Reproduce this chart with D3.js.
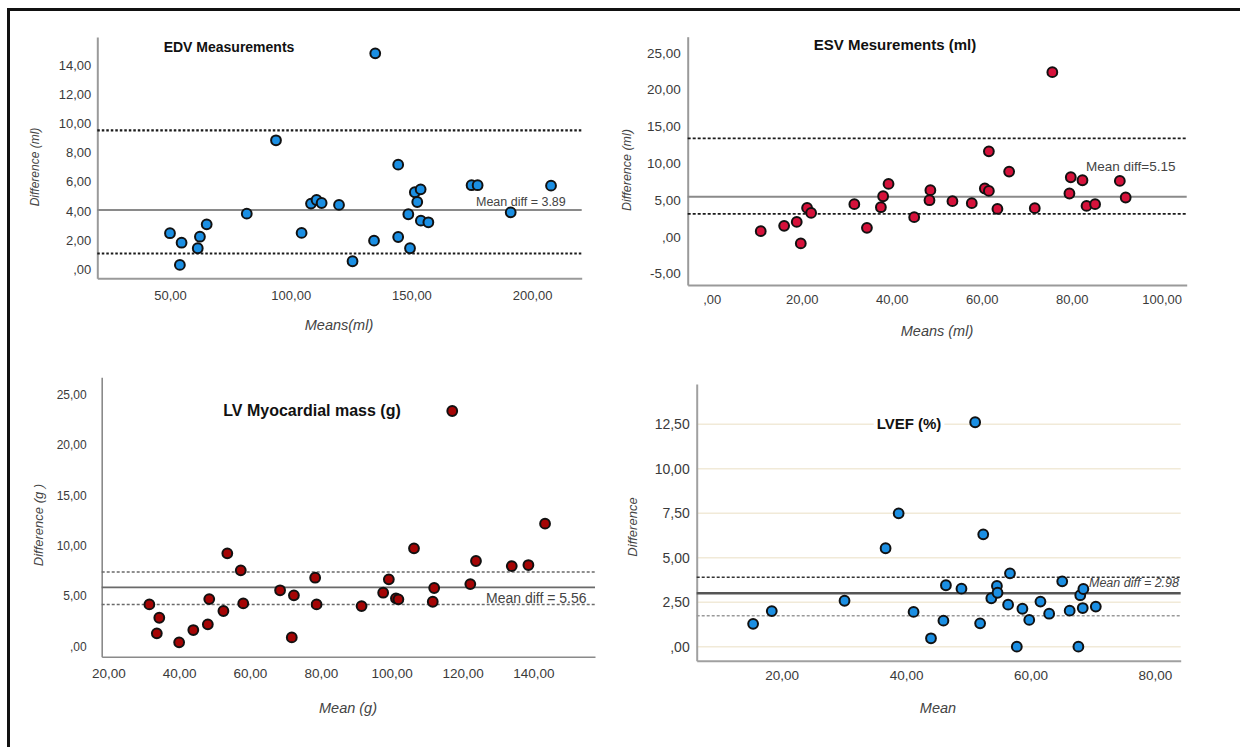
<!DOCTYPE html>
<html>
<head>
<meta charset="utf-8">
<script src="https://cdn.jsdelivr.net/npm/d3@7"></script>
<style>
  body { margin: 0; background: #fff; }
  svg { display: block; font-family: "Liberation Sans", Arial, sans-serif; }
  .tick text { fill: #3a3a3a; }
</style>
</head>
<body>
<div id="chart"></div>
<script>
// EDV (ml)
const edvMeans = [50.0, 54.8, 54.1, 61.5, 62.4, 65.2, 81.8, 93.9, 104.5, 108.4, 110.7, 112.8, 120.0, 125.6, 134.5, 135.0, 144.5, 144.5, 148.7, 149.4, 151.4, 153.8, 152.4, 153.9, 157.0, 174.9, 177.4, 191.1, 207.8];
const edvDiffs = [2.47, 1.82, 0.30, 1.44, 2.23, 3.08, 3.81, 8.84, 2.49, 4.50, 4.75, 4.54, 4.41, 0.55, 1.96, 14.80, 7.17, 2.21, 3.77, 1.44, 5.28, 5.48, 4.61, 3.33, 3.22, 5.76, 5.76, 3.90, 5.73];
const edvLines = [9.52, 4.06, 1.08]; // upper, mean, lower
const edvYTicks = [0, 2, 4, 6, 8, 10, 12, 14];
const edvXTicks = [50, 100, 150, 200];

// ESV (ml)
const esvMeans = [10.9, 16.1, 18.9, 19.8, 21.2, 22.1, 31.7, 34.5, 37.6, 38.1, 39.3, 45.0, 48.6, 48.4, 53.5, 57.8, 60.7, 61.6, 61.6, 63.5, 66.1, 71.8, 75.7, 79.5, 79.8, 82.4, 83.3, 85.2, 90.7, 92.0];
const esvDiffs = [0.77, 1.49, 2.03, -0.89, 3.93, 3.25, 4.43, 1.22, 4.02, 5.51, 7.18, 2.67, 6.33, 4.97, 4.84, 4.57, 6.56, 6.23, 11.61, 3.79, 8.86, 3.89, 22.36, 5.88, 8.09, 7.68, 4.20, 4.43, 7.59, 5.34];
const esvLines = [13.37, 5.45, 3.12];
const esvYTicks = [-5, 0, 5, 10, 15, 20, 25];
const esvXTicks = [0, 20, 40, 60, 80, 100];

// LV myocardial mass (g)
const lvmMeans = [31.6, 34.4, 33.7, 40.0, 44.0, 48.1, 48.5, 52.5, 53.6, 57.4, 58.1, 68.5, 72.4, 71.8, 78.4, 78.8, 91.5, 97.6, 99.2, 101.2, 101.9, 106.3, 111.6, 112.0, 117.1, 122.2, 123.8, 133.9, 138.6, 143.3];
const lvmDiffs = [4.17, 2.84, 1.29, 0.40, 1.62, 2.19, 4.70, 3.51, 9.24, 7.55, 4.27, 5.57, 5.07, 0.89, 6.82, 4.17, 4.00, 5.33, 6.66, 4.77, 4.67, 9.74, 4.43, 5.80, 23.39, 6.19, 8.48, 7.98, 8.08, 12.19];
const lvmLines = [7.39, 5.86, 4.17];
const lvmYTicks = [0, 5, 10, 15, 20, 25];
const lvmXTicks = [20, 40, 60, 80, 100, 120, 140];

// LVEF (%)
const efMeans = [15.4, 18.4, 30.1, 36.7, 38.8, 41.2, 44.0, 46.0, 46.4, 48.9, 51.1, 51.9, 52.4, 53.7, 54.6, 54.7, 56.4, 56.7, 57.8, 58.7, 59.8, 61.6, 63.0, 65.1, 66.3, 67.7, 68.0, 68.5, 68.4, 70.5];
const efDiffs = [1.28, 2.00, 2.58, 5.53, 7.49, 1.95, 0.47, 1.46, 3.45, 3.26, 12.61, 1.31, 6.31, 2.72, 3.41, 3.03, 2.36, 4.12, 0.00, 2.13, 1.50, 2.53, 1.85, 3.67, 2.02, 0.00, 2.89, 3.24, 2.17, 2.25];
const efLines = [3.90, 3.00, 1.74];
const efYTicks = [0, 2.5, 5, 7.5, 10, 12.5];
const efXTicks = [20, 40, 60, 80];

const width = 1240;
const height = 747;
const svg = d3.select('#chart').append('svg').attr('width', width).attr('height', height);

// frame (top and left only, like the pasted figure)
svg.append('line').attr('x1', 8.5).attr('x2', width).attr('y1', 9.5).attr('y2', 9.5).attr('stroke', '#111').attr('stroke-width', 3);
svg.append('line').attr('x1', 8.5).attr('x2', 8.5).attr('y1', 8).attr('y2', height).attr('stroke', '#111').attr('stroke-width', 3);

// SPSS style: comma decimals, ",00" for zero, plain hyphen for minus
const fmt = d => d === 0 ? ',00' : d3.format('.2f')(d).replace('.', ',').replace('\u2212', '-');

const panels = [
  {
    xs: edvMeans, ys: edvDiffs, lines: edvLines, xTicks: edvXTicks, yTicks: edvYTicks,
    xRange: [97.3, 581.7], yRange: [278.3, 37], xDomain: [19.9, 220.5], yDomain: [-0.62, 15.92],
    fill: '#1b8fe3', tickFont: 13, yTickFont: 13, xPad: 12, yPad: 6,
    axisColor: '#9a9a9a', axisWidth: 2,
    dash: [{ c: '#1a1a1a', w: 2.2, d: '2.5,2' }, { c: '#8a8a8a', w: 2 }, { c: '#1a1a1a', w: 2.2, d: '2.5,2' }],
    title: 'EDV Measurements', titleX: 229, titleY: 52, titleSize: 14,
    meanText: 'Mean diff = 3.89', meanX: 476, meanY: 206, meanSize: 12.5, meanItalic: false,
    xTitle: 'Means(ml)', xTitleX: 339, xTitleY: 330, yTitle: 'Difference (ml)', yTitleX: 35, yTitleY: 167, yTitleSize: 12
  },
  {
    xs: esvMeans, ys: esvDiffs, lines: esvLines, xTicks: esvXTicks, yTicks: esvYTicks,
    xRange: [687.7, 1186.7], yRange: [285, 36.7], xDomain: [-5.33, 105.56], yDomain: [-6.54, 27.17],
    fill: '#d6123b', tickFont: 13, yTickFont: 13.5, xPad: 10, yPad: 7,
    axisColor: '#9a9a9a', axisWidth: 2,
    dash: [{ c: '#1a1a1a', w: 1.6, d: '3,2' }, { c: '#8a8a8a', w: 2 }, { c: '#1a1a1a', w: 1.6, d: '3,2' }],
    title: 'ESV Mesurements (ml)', titleX: 895, titleY: 50, titleSize: 15,
    meanText: 'Mean diff=5.15', meanX: 1086, meanY: 171, meanSize: 13.5, meanItalic: false,
    xTitle: 'Means (ml)', xTitleX: 937, xTitleY: 336, yTitle: 'Difference (ml)', yTitleX: 627, yTitleY: 170, yTitleSize: 12.5
  },
  {
    xs: lvmMeans, ys: lvmDiffs, lines: lvmLines, xTicks: lvmXTicks, yTicks: lvmYTicks,
    xRange: [101.7, 595], yRange: [656.7, 377.3], xDomain: [18.14, 157.4], yDomain: [-1.03, 26.74],
    fill: '#a50505', tickFont: 13.5, yTickFont: 12, xPad: 12, yPad: 15,
    axisColor: '#8a8a8a', axisWidth: 1.6,
    dash: [{ c: '#6a6a6a', w: 1.5, d: '3,2' }, { c: '#6a6a6a', w: 1.6 }, { c: '#6a6a6a', w: 1.5, d: '3,2' }],
    title: 'LV Myocardial mass (g)', titleX: 312, titleY: 415.5, titleSize: 16,
    meanText: 'Mean diff = 5.56', meanX: 486, meanY: 603, meanSize: 14, meanItalic: false,
    xTitle: 'Mean (g)', xTitleX: 348, xTitleY: 713, yTitle: 'Difference (g )', yTitleX: 38, yTitleY: 525, yTitleSize: 13
  },
  {
    xs: efMeans, ys: efDiffs, lines: efLines, xTicks: efXTicks, yTicks: efYTicks,
    xRange: [696.7, 1180.7], yRange: [660.7, 384], xDomain: [6.33, 84.15], yDomain: [-0.79, 14.76],
    fill: '#1b8fe3', tickFont: 13.5, yTickFont: 14, xPad: 10, yPad: 7,
    axisColor: '#a0a0a0', axisWidth: 2, grid: true,
    dash: [{ c: '#333', w: 1.5, d: '3,2' }, { c: '#555', w: 2.5 }, { c: '#9a9a9a', w: 1.5, d: '3,2' }],
    title: 'LVEF (%)', titleX: 909, titleY: 428.5, titleSize: 15, titleBox: true,
    meanText: 'Mean diff = 2.98', meanX: 1089, meanY: 587, meanSize: 12.5, meanItalic: true,
    xTitle: 'Mean', xTitleX: 938, xTitleY: 713, yTitle: 'Difference', yTitleX: 632, yTitleY: 527, yTitleSize: 13
  }
];

panels.forEach(drawPanel);

function drawPanel(p) {
  const x = d3.scaleLinear().domain(p.xDomain).range(p.xRange);
  const y = d3.scaleLinear().domain(p.yDomain).range(p.yRange);
  const g = svg.append('g');

  if (p.grid) {
    g.selectAll('.grid').data(p.yTicks).enter().append('line')
      .attr('x1', p.xRange[0]).attr('x2', p.xRange[1])
      .attr('y1', d => y(d)).attr('y2', d => y(d))
      .attr('stroke', '#f1ead8').attr('stroke-width', 1.5);
  }

  // x axis
  const xa = g.append('g').attr('transform', `translate(0,${p.yRange[0]})`)
    .call(d3.axisBottom(x).tickValues(p.xTicks).tickFormat(fmt).tickSize(0).tickPadding(p.xPad));
  xa.selectAll('text').style('font-size', p.tickFont + 'px');
  xa.select('.domain').attr('stroke', p.axisColor).attr('stroke-width', p.axisWidth);

  // y axis
  const ya = g.append('g').attr('transform', `translate(${p.xRange[0]},0)`)
    .call(d3.axisLeft(y).tickValues(p.yTicks).tickFormat(fmt).tickSize(0).tickPadding(p.yPad));
  ya.selectAll('text').style('font-size', p.yTickFont + 'px');
  ya.select('.domain').attr('stroke', p.axisColor).attr('stroke-width', p.axisWidth);

  // limits of agreement and mean difference
  g.selectAll('.ref').data(p.lines).enter().append('line')
    .attr('x1', p.xRange[0]).attr('x2', p.xRange[1])
    .attr('y1', d => y(d)).attr('y2', d => y(d))
    .attr('stroke', (d, i) => p.dash[i].c)
    .attr('stroke-width', (d, i) => p.dash[i].w)
    .attr('stroke-dasharray', (d, i) => p.dash[i].d || null);

  // title (LVEF title sits on a white box over the gridline)
  const tg = g.append('g');
  const t = tg.append('text').attr('x', p.titleX).attr('y', p.titleY)
    .attr('text-anchor', 'middle').attr('font-weight', 'bold')
    .style('font-size', p.titleSize + 'px').attr('fill', '#111').text(p.title);
  if (p.titleBox) {
    const b = t.node().getBBox();
    tg.insert('rect', 'text').attr('x', b.x - 3).attr('y', b.y).attr('width', b.width + 6).attr('height', b.height).attr('fill', '#fff');
  }

  g.append('text').attr('x', p.meanX).attr('y', p.meanY)
    .style('font-size', p.meanSize + 'px').attr('fill', '#444')
    .attr('font-style', p.meanItalic ? 'italic' : null).text(p.meanText);

  // axis titles
  g.append('text').attr('x', p.xTitleX).attr('y', p.xTitleY).attr('text-anchor', 'middle')
    .attr('font-style', 'italic').style('font-size', '14.5px').attr('fill', '#444').text(p.xTitle);
  g.append('text').attr('transform', `translate(${p.yTitleX},${p.yTitleY}) rotate(-90)`)
    .attr('text-anchor', 'middle').attr('dominant-baseline', 'central')
    .attr('font-style', 'italic').style('font-size', p.yTitleSize + 'px').attr('fill', '#444').text(p.yTitle);

  // points
  g.selectAll('circle').data(p.xs).enter().append('circle')
    .attr('cx', d => x(d))
    .attr('cy', (d, i) => y(p.ys[i]))
    .attr('r', 4.9)
    .attr('fill', p.fill)
    .attr('stroke', '#111')
    .attr('stroke-width', 2);
}
</script>
</body>
</html>
